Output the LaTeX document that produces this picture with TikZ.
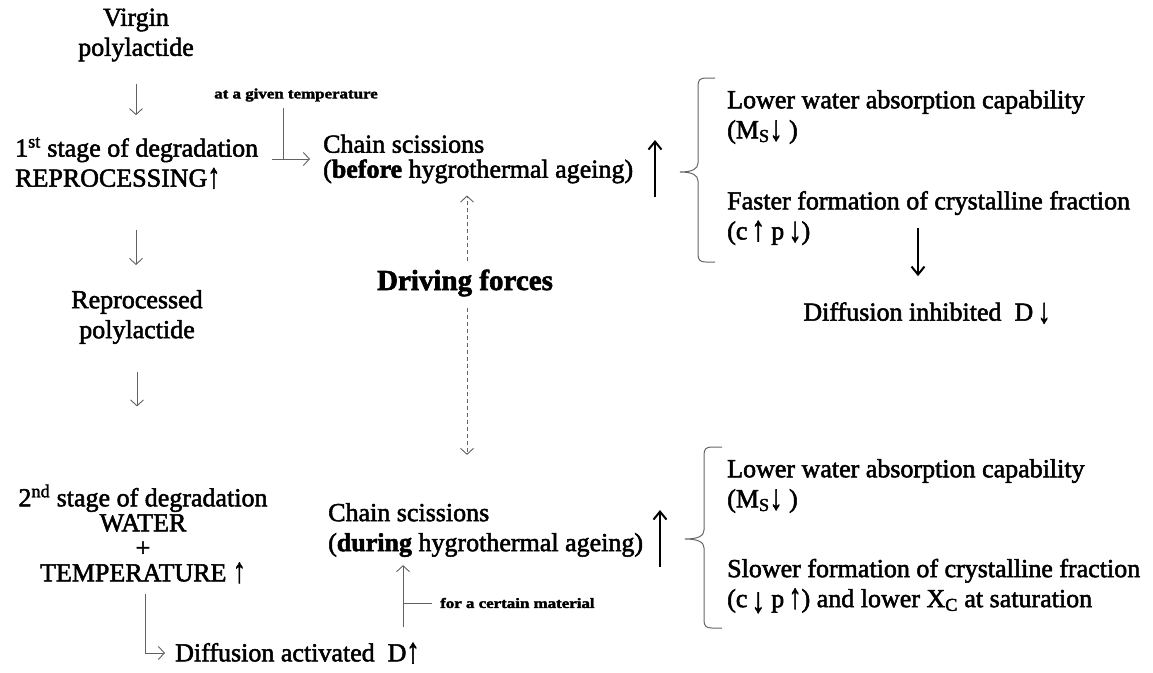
\documentclass[tikz,border=0pt]{standalone}
\usepackage{fontspec}
\setmainfont{Liberation Serif}[FakeBold=2]
\setsansfont{Liberation Serif}[FakeBold=4]
\usetikzlibrary{arrows.meta}
\newcommand\fs{\fontsize{26}{30}\selectfont}
\newcommand\sfs{\fontsize{13}{15}\selectfont\bfseries}
\newcommand\hv[1]{{\bfseries #1}}
\newcommand\upar{\raisebox{-1pt}{\scalebox{1}[1.35]{↑}}}
\newcommand\dnar{\raisebox{-2pt}{\scalebox{1}[1.35]{↓}}}
\begin{document}
\begin{tikzpicture}[x=1pt,y=-1pt,
  txt/.style={font=\fs, inner sep=0pt},
  lbl/.style={font=\sfs, inner sep=0pt},
  conn/.style={draw=black!62, line width=0.9pt, -{Straight Barb[length=6pt,width=13pt]}},
  stub/.style={draw=black!62, line width=0.9pt},
  dashconn/.style={draw=black!62, line width=0.9pt, dash pattern=on 4pt off 3pt, -{Straight Barb[length=6pt,width=13pt]}},
  big/.style={draw=black, line width=2pt, -{Straight Barb[length=8pt,width=13pt]}},
  brc/.style={draw=black!60, line width=1pt}
]
\useasboundingbox (0,0) rectangle (1153,672);

% left column
\node[txt, align=center] (virgin) at (136,35) {Virgin\\polylactide};
\node[txt, align=left, anchor=west] (stage1) at (15,163) {1\textsuperscript{st} stage of degradation\\REPROCESSING\upar};
\node[txt, align=center] (reproc) at (137,317) {Reprocessed\\polylactide};
\node[txt, align=center, font=\fontsize{26}{25}\selectfont] (stage2) at (143,534) {2\textsuperscript{nd}\ stage of degradation\\WATER\\+\\TEMPERATURE \upar};
\node[txt, anchor=west] (activ) at (175,653) {Diffusion activated\ \ D\upar};

% middle column
\node[txt, align=left, anchor=west, font=\fontsize{26}{25}\selectfont] (chain1) at (323,159) {Chain scissions\\(\textbf{before} hygrothermal\ ageing)};
\node[txt, align=left, anchor=west] (chain2) at (328,530) {Chain scissions\\(\textbf{during} hygrothermal\ ageing)};
\node[txt, font=\fontsize{29}{32}\selectfont\bfseries] (driving) at (465,283) {Driving forces};
\node[lbl] (temp) at (296,95) {\scalebox{1.3}[1.1]{at a given temperature}};
\node[lbl, anchor=west] (mat) at (440,603) {\scalebox{1.3}[1.1]{for a certain material}};

% right column
\node[txt, align=left, anchor=west] (abs1) at (727,117) {Lower water absorption capability\\(M\textsubscript{S}\dnar\ )};
\node[txt, align=left, anchor=west] (cry1) at (727,218) {Faster formation of crystalline fraction\\(c\,\upar\ p\,\dnar)};
\node[txt] (inhib) at (927,313) {Diffusion inhibited\ \ D\,\dnar};
\node[txt, align=left, anchor=west] (abs2) at (727,486) {Lower water absorption capability\\(M\textsubscript{S}\dnar\ )};
\node[txt, align=left, anchor=west] (cry2) at (727,586) {Slower formation of crystalline fraction\\(c\,\raisebox{-3pt}{\dnar}\ p\,\upar) and lower X\textsubscript{C} at saturation};

% left column connectors
\draw[conn, shorten <=22pt, shorten >=22pt] (virgin.south) -- (virgin.south |- stage1.north);
\draw[conn, shorten <=41pt, shorten >=25pt] (virgin.south |- stage1.south) -- (virgin.south |- reproc.north);
\draw[conn, shorten <=28pt, shorten >=78pt] (reproc.south) -- (reproc.south |- stage2.north);
\draw[conn, shorten <=10pt, shorten >=10pt] ([xshift=2pt]stage2.south) |- (activ.west);

% stage 1 -> chain 1
\draw[conn, shorten <=14pt, shorten >=13pt] (stage1.east |- chain1.west) -- (chain1.west);
\draw[stub, shorten <=6pt] ([xshift=-13pt]temp.south) -- ([xshift=-13pt]temp.south |- chain1.west);

% activ -> chain 2
\draw[conn, shorten <=15pt, shorten >=8pt] ([xshift=228pt]activ.north west) -- ([xshift=228pt]activ.north west |- chain2.south);
\draw[stub, shorten <=8pt] (mat.west) -- ([xshift=228pt]activ.north west |- mat.west);

% driving forces
\draw[dashconn, shorten <=8pt, shorten >=12pt] ([xshift=2pt]driving.north) -- ([xshift=2pt]driving.north |- chain1.south);
\draw[dashconn, shorten <=11pt, shorten >=48pt] ([xshift=2pt]driving.south) -- ([xshift=2pt]driving.south |- chain2.north);

% big arrows
\draw[big] (655,197) -- (655,140);
\draw[big] (660,567) -- (660,510);
\draw[big, shorten <=10pt, shorten >=26pt] ([xshift=-9pt]inhib.north |- cry1.center) -- ([xshift=-9pt]inhib.north);

% braces
\draw[brc] (715,78) -- (706,78) .. controls (700,78) and (698,80) .. (698,86) -- (698,163)
  .. controls (698,169) and (692,172) .. (680,172) .. controls (692,172) and (698,175) .. (698,181)
  -- (698,254) .. controls (698,260) and (700,262) .. (706,262) -- (715,262);
\draw[brc] (722,447) -- (712,447) .. controls (706,447) and (704,449) .. (704,455) -- (704,530)
  .. controls (704,536) and (698,539) .. (685,539) .. controls (698,539) and (704,542) .. (704,548)
  -- (704,620) .. controls (704,626) and (706,628) .. (712,628) -- (722,628);
\end{tikzpicture}
\end{document}
